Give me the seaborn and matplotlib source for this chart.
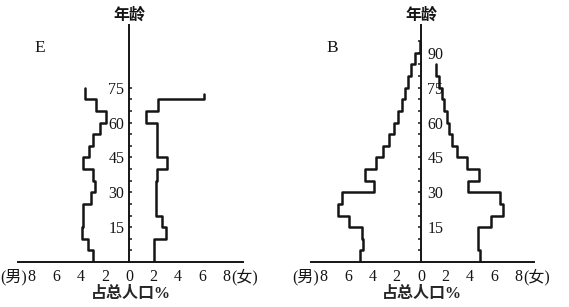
import matplotlib
matplotlib.use("Agg")
import matplotlib.pyplot as plt
import seaborn as sns
import pandas as pd

sns.set_style("white")
plt.rcParams["font.family"] = ["Liberation Serif", "Noto Sans CJK SC"]

# ---------------- data (percent of total population, 5-year age groups) -------------
E_age_start = [0, 5, 10, 15, 20, 25, 30, 35, 40, 45, 50, 55, 60, 65, 70]
E_male = [3.0, 3.4, 3.9, 3.8, 3.8, 3.1, 2.85, 2.95, 3.8, 3.3, 3.0, 2.4, 1.9, 2.7, 3.6]
E_female = [2.0, 2.0, 3.0, 2.7, 2.2, 2.2, 2.2, 2.25, 3.1, 2.3, 2.3, 2.3, 1.35, 2.35, 6.1]
E_male_top = 75
E_female_top = 72.5
E_yticks = [15, 30, 45, 60, 75]

B_male_start = [0, 5, 10, 15, 20, 25, 30, 35, 40, 45, 50, 55, 60, 65, 70, 75, 80, 85, 90]
B_male = [5.0, 4.75, 4.85, 5.9, 6.8, 6.5, 3.9, 4.6, 3.7, 3.1, 2.6, 2.2, 1.9, 1.6, 1.3,
          1.05, 0.8, 0.5, 0.12]
B_male_top = 95
B_female_start = [0, 5, 10, 15, 20, 25, 30, 35, 40, 45, 50, 55, 60, 65, 70, 75, 80]
B_female = [4.85, 4.65, 4.7, 5.75, 6.75, 6.5, 3.85, 4.75, 3.8, 2.9, 2.55, 2.3, 2.1, 1.9,
            1.7, 1.45, 1.2]
B_female_top = 85
B_yticks = [15, 30, 45, 60, 75, 90]

x_ticks = [-8, -6, -4, -2, 0, 2, 4, 6, 8]
x_ticklabels = ["8", "6", "4", "2", "0", "2", "4", "6", "8"]

INK = "#151515"


def step_frame(starts, top, values, sign):
    ages = list(starts) + [top]
    vals = list(values) + [values[-1]]
    return pd.DataFrame({"pct": [sign * v for v in vals], "age": ages})


def draw_panel(ax, letter, male_start, male, male_top, female_start, female, female_top,
               yticks, minor_top, xlim, side):
    for df in (step_frame(male_start, male_top, male, -1),
               step_frame(female_start, female_top, female, 1)):
        sns.lineplot(data=df, x="pct", y="age", orient="y", sort=False, estimator=None,
                     drawstyle="steps-pre", color=INK, linewidth=1.8, ax=ax)
    ax.set_xlim(*xlim)
    ax.set_ylim(0, 102)
    ax.set_xticks(x_ticks)
    ax.set_xticklabels(x_ticklabels)
    ax.set_yticks(yticks)
    ax.set_yticks(list(range(5, minor_top + 1, 5)), minor=True)
    ax.set_ylabel("")
    ax.set_xlabel("占总人口%", fontsize=11.5, fontweight="bold", labelpad=1)
    ax.spines["top"].set_visible(False)
    if side == "left":
        ax.spines["right"].set_visible(False)
        ax.spines["left"].set_position(("data", 0))
        ax.yaxis.set_ticks_position("left")
        sp = ax.spines["left"]
        ypad = 3.5
    else:
        ax.spines["left"].set_visible(False)
        ax.spines["right"].set_position(("data", 0))
        ax.yaxis.set_ticks_position("right")
        sp = ax.spines["right"]
        ypad = 4.5
    for s in (sp, ax.spines["bottom"]):
        s.set_linewidth(1.4)
        s.set_color(INK)
    ax.tick_params(axis="y", which="both", direction="in", length=2.5, width=1.1,
                   color=INK, labelsize=11.5, pad=ypad, labelcolor=INK)
    ax.tick_params(axis="x", direction="in", length=3, width=1.1, color=INK,
                   labelsize=11.5, pad=5, labelcolor=INK)
    ax.set_facecolor("none")
    # sex markers beside outer tick labels
    ax.annotate("(男)", xy=(-8, 0), xycoords=("data", "axes fraction"),
                xytext=(-3.5, -5), textcoords="offset points", ha="right", va="top",
                fontsize=11.5, color=INK)
    ax.annotate("(女)", xy=(8, 0), xycoords=("data", "axes fraction"),
                xytext=(3.5, -5), textcoords="offset points", ha="left", va="top",
                fontsize=11.5, color=INK)
    ax.annotate("年龄", xy=(0, 1), xycoords=("data", "axes fraction"),
                xytext=(0, 1), textcoords="offset points", ha="center", va="bottom",
                fontsize=11.5, fontweight="bold", color=INK)
    ax.text(-7.3, 92, letter, ha="center", va="center", fontsize=12.5, color=INK)


fig = plt.figure(figsize=(5.69, 3.07), dpi=100)
axE = fig.add_axes([18.3 / 569, 1 - 262 / 307, 224.4 / 569, 237 / 307])
axB = fig.add_axes([310.7 / 569, 1 - 262 / 307, 223.3 / 569, 237 / 307])

draw_panel(axE, "E", E_age_start, E_male, E_male_top, E_age_start, E_female, E_female_top,
           E_yticks, 75, (-9.1, 9.3), "left")
draw_panel(axB, "B", B_male_start, B_male, B_male_top, B_female_start, B_female,
           B_female_top, B_yticks, 95, (-9.05, 9.25), "right")

fig.savefig("out.png", dpi=100, facecolor="white")
